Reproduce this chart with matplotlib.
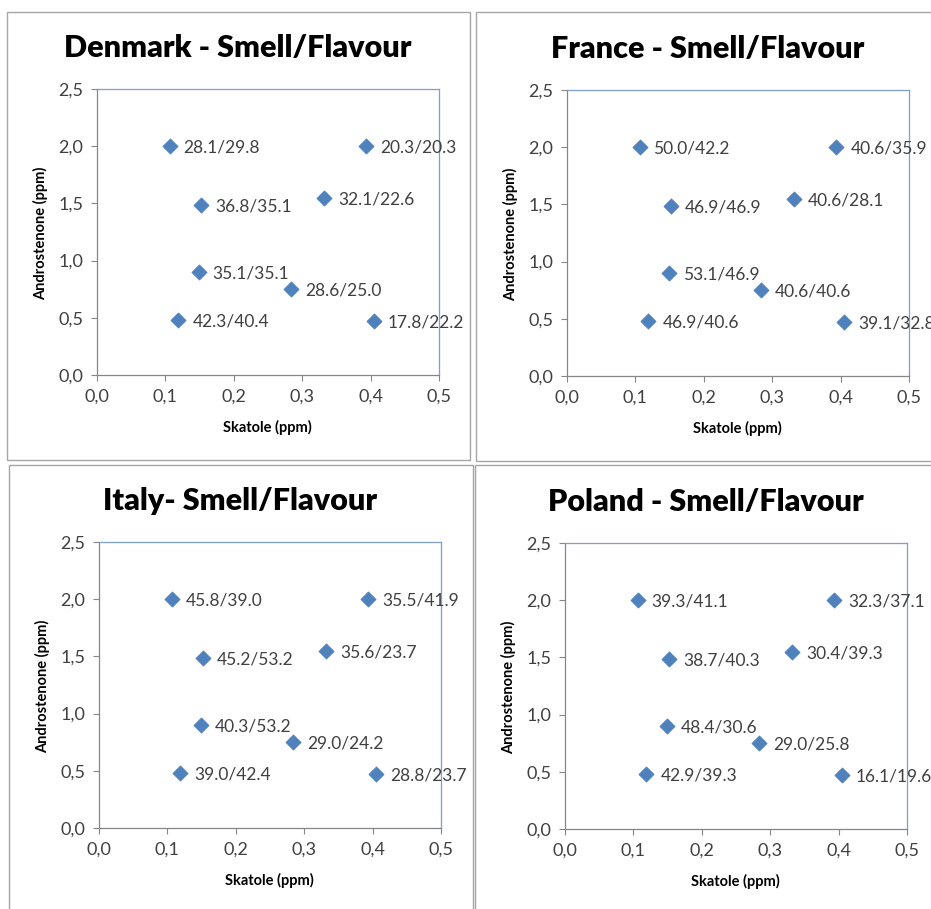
import matplotlib
matplotlib.use('Agg')
import matplotlib.pyplot as plt
from matplotlib.patches import Rectangle
from matplotlib.ticker import FuncFormatter

plt.rcParams['font.family'] = ['Lato', 'DejaVu Sans']

# sample positions (same for every country)
skatole = [0.106, 0.394, 0.152, 0.332, 0.149, 0.284, 0.119, 0.405]
androstenone = [2.0, 2.0, 1.486, 1.544, 0.898, 0.755, 0.481, 0.472]

countries = ['Denmark', 'France', 'Italy', 'Poland']
titles = ['Denmark - Smell/Flavour', 'France - Smell/Flavour',
          'Italy- Smell/Flavour', 'Poland - Smell/Flavour']

denmark_labels = ['28.1/29.8', '20.3/20.3', '36.8/35.1', '32.1/22.6',
                  '35.1/35.1', '28.6/25.0', '42.3/40.4', '17.8/22.2']
france_labels = ['50.0/42.2', '40.6/35.9', '46.9/46.9', '40.6/28.1',
                 '53.1/46.9', '40.6/40.6', '46.9/40.6', '39.1/32.8']
italy_labels = ['45.8/39.0', '35.5/41.9', '45.2/53.2', '35.6/23.7',
                '40.3/53.2', '29.0/24.2', '39.0/42.4', '28.8/23.7']
poland_labels = ['39.3/41.1', '32.3/37.1', '38.7/40.3', '30.4/39.3',
                 '48.4/30.6', '29.0/25.8', '42.9/39.3', '16.1/19.6']
all_labels = [denmark_labels, france_labels, italy_labels, poland_labels]

W, H = 931, 909
fig = plt.figure(figsize=(W / 100, H / 100), dpi=100)

# pixel layout: axes left, axes zero line (y), outer frame box
axes_px = [(97, 375), (567, 376), (99, 828), (565, 829)]
frames = [(7, 12, 470, 460), (476, 12, 940, 461), (9, 465, 473, 915), (475, 465, 940, 915)]
ax_w, ax_h = 342, 286

for x0, y0, x1, y1 in frames:
    fig.patches.append(Rectangle((x0 / W, 1 - y1 / H), (x1 - x0) / W, (y1 - y0) / H,
                                 transform=fig.transFigure, fill=False,
                                 edgecolor='#a6a6a6', linewidth=1.0))

comma = FuncFormatter(lambda v, p: f'{v:.1f}'.replace('.', ','))

for i in range(4):
    left, zero = axes_px[i]
    ax = fig.add_axes([left / W, 1 - zero / H, ax_w / W, ax_h / H])
    ax.scatter(skatole, androstenone, marker='D', s=60, color='#4f81bd',
               edgecolors='#4a7ebb', linewidths=0.5, zorder=3, clip_on=False)
    for x, y, lab in zip(skatole, androstenone, all_labels[i]):
        ax.annotate(lab, (x, y), xytext=(10, -1), textcoords='offset points',
                    ha='left', va='center', fontsize=12.5, color='#404040',
                    annotation_clip=False)
    ax.set_xlim(0, 0.5)
    ax.set_ylim(0, 2.5)
    ax.set_xticks([0, 0.1, 0.2, 0.3, 0.4, 0.5])
    ax.set_yticks([0, 0.5, 1.0, 1.5, 2.0, 2.5])
    ax.xaxis.set_major_formatter(comma)
    ax.yaxis.set_major_formatter(comma)
    ax.tick_params(direction='out', length=4, width=0.8, color='#868686',
                   labelsize=13, labelcolor='#404040', pad=6)
    for side in ['left', 'bottom']:
        ax.spines[side].set_color('#868686')
    for side in ['top', 'right']:
        ax.spines[side].set_color('#7f9fc8')
    for sp in ax.spines.values():
        sp.set_linewidth(0.9)

    cx = left + ax_w / 2
    fig.text((cx - 30) / W, 1 - (zero - 327) / H, titles[i], ha='center', va='center',
             fontsize=22, fontweight='heavy', color='black')
    fig.text((cx - 1) / W, 1 - (zero + 52) / H, 'Skatole (ppm)', ha='center', va='center',
             fontsize=10.5, fontweight='bold', color='black')
    fig.text((left - 56) / W, 1 - (zero - 142) / H, 'Androstenone (ppm)', ha='center',
             va='center', rotation=90, fontsize=10.5, fontweight='bold', color='black')

fig.savefig('out.png', dpi=100)
